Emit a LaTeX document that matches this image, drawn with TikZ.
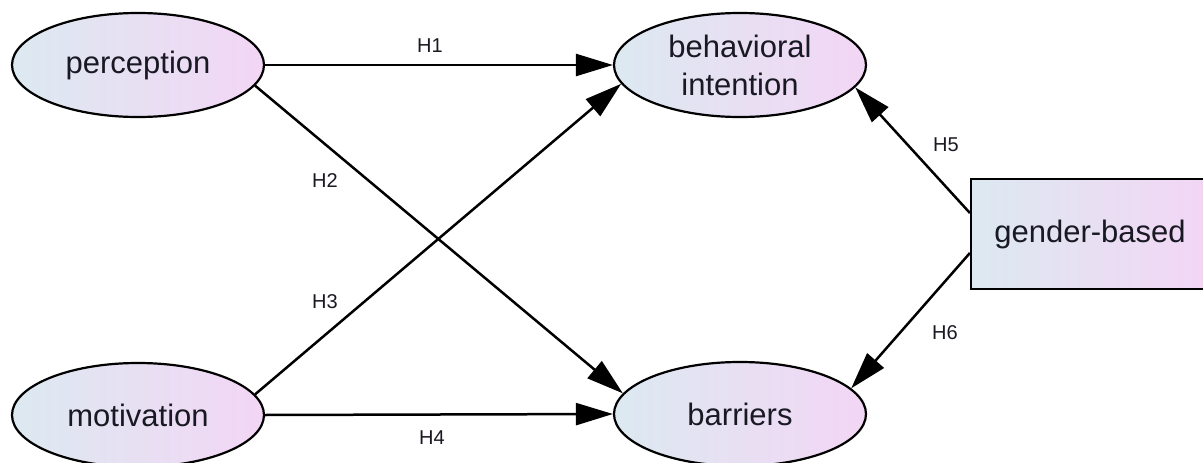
\documentclass[tikz,border=0pt]{standalone}
\usepackage{fontspec}
\setmainfont{Liberation Sans}
\usetikzlibrary{arrows.meta,shapes.geometric}
\definecolor{gl}{RGB}{220,233,241}
\definecolor{gr}{RGB}{243,214,245}
\definecolor{txt}{RGB}{25,25,35}
\tikzset{
  latent/.style={ellipse, draw=black, line width=2.2pt, left color=gl, right color=gr,
    minimum width=252pt, minimum height=104pt, inner sep=0pt, align=center,
    font=\fontsize{31}{38}\selectfont, text=txt},
  observed/.style={rectangle, draw=black, line width=2.2pt, left color=gl, right color=gr,
    minimum width=238pt, minimum height=110pt, inner sep=0pt,
    font=\fontsize{31}{38}\selectfont, text=txt},
  path/.style={line width=2.5pt, -{Triangle[length=37pt,width=22pt]}},
  hlab/.style={font=\fontsize{20}{22}\selectfont, text=txt, inner sep=0pt}
}
\begin{document}
\begin{tikzpicture}[x=1pt,y=-1pt]
\clip (0,0) rectangle (1203,463);
\fill[white] (0,0) rectangle (1203,463);
\node[latent] (perc) at (138,65) {perception};
\node[latent] (moti) at (138,415) {motivation};
\node[latent] (beh) at (740,65) {behavioral\\intention};
\node[latent] (bar) at (740,414) {barriers};
\node[observed] (gen) at (1090,234) {gender-based};
\draw[path] (perc.east) -- (beh.west);
\draw[path] (perc.-10) -- (bar.170);
\draw[path] (moti.10) -- (beh.189);
\draw[path] (moti.east) -- (bar.west);
\draw[path] ([yshift=21pt]gen.west) -- (beh.-11);
\draw[path] ([yshift=-19pt]gen.west) -- (bar.13);
\node[hlab] (h1) at (430,46) {H1};
\node[hlab] (h2) at (325,181) {H2};
\node[hlab] (h3) at (325,302) {H3};
\node[hlab] (h4) at (432,438) {H4};
\node[hlab] (h5) at (946,145) {H5};
\node[hlab] (h6) at (945,333) {H6};
\end{tikzpicture}
\end{document}
